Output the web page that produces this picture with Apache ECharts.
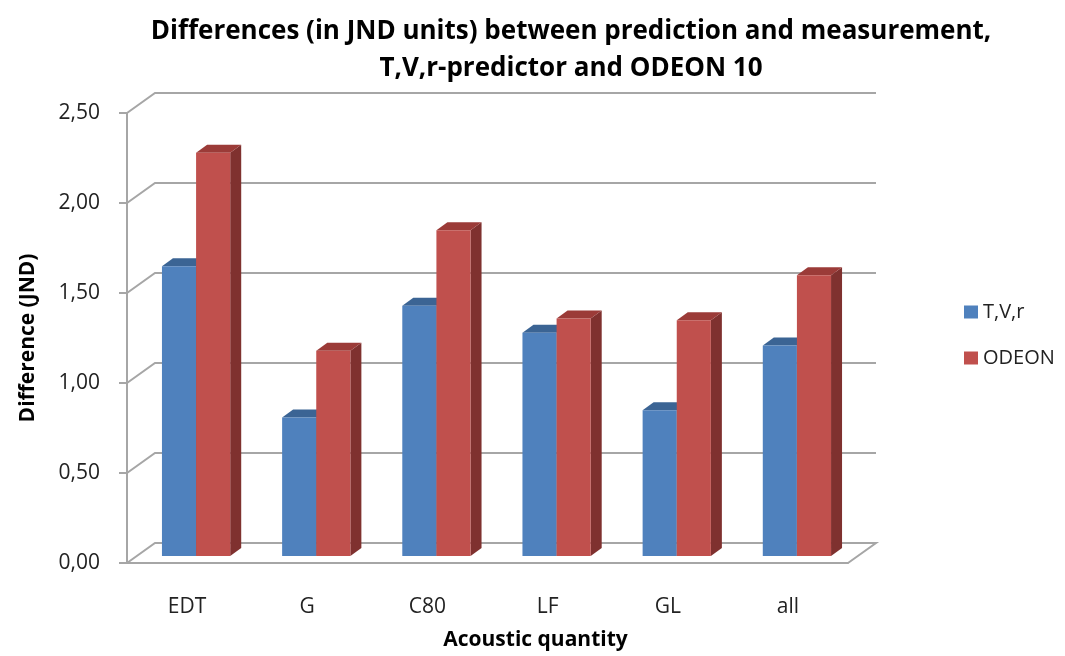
<!DOCTYPE html>
<html>
<head>
<meta charset="utf-8">
<script src="https://cdn.jsdelivr.net/npm/echarts@6/dist/echarts.min.js"></script>
<style>
  html, body { margin: 0; padding: 0; background: #fff; }
  #main { width: 1065px; height: 656px; }
</style>
</head>
<body>
<div id="main"></div>
<script>
var categories = ['EDT', 'G', 'C80', 'LF', 'GL', 'all'];
var tvrValues = [1.61, 0.77, 1.39, 1.24, 0.81, 1.17];
var odeonValues = [2.24, 1.14, 1.81, 1.32, 1.31, 1.56];
var yTicks = [0, 0.5, 1, 1.5, 2, 2.5];

var font = 'Open Sans';
var wallDX = 28, wallDY = 20;   // depth of the back wall
var barDX = 11, barDY = 8;      // depth of one bar
var barShiftX = 9, barShiftY = 7; // bars stand a bit behind the front edge

function barRenderer(side, front, topColor, sideColor) {
    return function (params, api) {
        var top = api.coord([api.value(0), api.value(1)]);
        var base = api.coord([api.value(0), 0]);
        var band = api.size([1, 0])[0];
        var w = band * 0.284;
        var x0 = top[0] + side * w + barShiftX;
        var yt = top[1] - barShiftY;
        var yb = base[1] - barShiftY;
        return {
            type: 'group',
            children: [
                {type: 'polygon', shape: {points: [[x0 + w, yt], [x0 + w + barDX, yt - barDY], [x0 + w + barDX, yb - barDY], [x0 + w, yb]]},
                    style: {fill: sideColor}},
                {type: 'polygon', shape: {points: [[x0, yt], [x0 + barDX, yt - barDY], [x0 + w + barDX, yt - barDY], [x0 + w, yt]]},
                    style: {fill: topColor}},
                {type: 'rect', shape: {x: x0, y: yt, width: w, height: yb - yt},
                    style: {fill: front}}
            ]
        };
    };
}

function wallRenderer(params, api) {
    var cs = params.coordSys;
    var y = api.coord([0, api.value(1)])[1];
    var pts = [[cs.x, y], [cs.x + wallDX, y - wallDY], [cs.x + cs.width + wallDX, y - wallDY]];
    if (api.value(1) === 0) {
        pts.push([cs.x + cs.width, y]);
    }
    return {
        type: 'polyline',
        shape: {points: pts},
        style: {stroke: '#a6a6a6', lineWidth: 2, fill: null}
    };
}

var myChart = echarts.init(document.getElementById('main'));
var option = {
    backgroundColor: '#fff',
    title: {
        text: 'Differences (in JND units) between prediction and measurement,\nT,V,r-predictor and ODEON 10',
        left: 566,
        top: 8,
        textAlign: 'center',
        textStyle: {
            fontFamily: font,
            fontSize: 26,
            fontWeight: 'bold',
            color: '#000',
            lineHeight: 37
        }
    },
    legend: {
        data: ['T,V,r', 'ODEON'],
        orient: 'vertical',
        left: 959,
        top: 297,
        itemWidth: 14,
        itemHeight: 13,
        itemGap: 26,
        icon: 'rect',
        textStyle: {fontFamily: font, fontSize: 20, color: '#222'}
    },
    grid: {
        left: 127,
        right: 217,
        top: 113,
        bottom: 91
    },
    xAxis: {
        type: 'category',
        data: categories,
        name: 'Acoustic quantity',
        nameLocation: 'middle',
        nameGap: 67,
        nameTextStyle: {fontFamily: font, fontSize: 21, fontWeight: 'bold', color: '#000', padding: [0, 0, 0, 96]},
        axisLine: {lineStyle: {color: '#a6a6a6', width: 2}},
        axisTick: {length: 8, lineStyle: {color: '#a6a6a6', width: 2}},
        axisLabel: {margin: 34, fontFamily: font, fontSize: 21, color: '#222'}
    },
    yAxis: {
        type: 'value',
        min: 0,
        max: 2.5,
        interval: 0.5,
        name: 'Difference (JND)',
        nameLocation: 'middle',
        nameRotate: 90,
        nameGap: 88,
        nameTextStyle: {fontFamily: font, fontSize: 21, fontWeight: 'bold', color: '#000'},
        axisLine: {show: true, lineStyle: {color: '#a6a6a6', width: 2}},
        axisTick: {show: true, length: 8, lineStyle: {color: '#a6a6a6', width: 2}},
        splitLine: {show: false},
        axisLabel: {
            margin: 27,
            fontFamily: font,
            fontSize: 21,
            color: '#222',
            formatter: function (v) { return v.toFixed(2).replace('.', ','); }
        }
    },
    series: [
        {
            name: 'walls',
            type: 'custom',
            z: 1,
            silent: true,
            renderItem: wallRenderer,
            data: yTicks.map(function (v) { return [0, v]; })
        },
        {
            name: 'T,V,r',
            type: 'custom',
            z: 2,
            itemStyle: {color: '#4f81bd'},
            renderItem: barRenderer(-1, '#4f81bd', '#3b6494', '#2f5078'),
            data: categories.map(function (c, i) { return [i, tvrValues[i]]; })
        },
        {
            name: 'ODEON',
            type: 'custom',
            z: 3,
            itemStyle: {color: '#c0504d'},
            renderItem: barRenderer(0, '#c0504d', '#9b3b38', '#7f312f'),
            data: categories.map(function (c, i) { return [i, odeonValues[i]]; })
        }
    ]
};
myChart.setOption(option);
</script>
</body>
</html>
